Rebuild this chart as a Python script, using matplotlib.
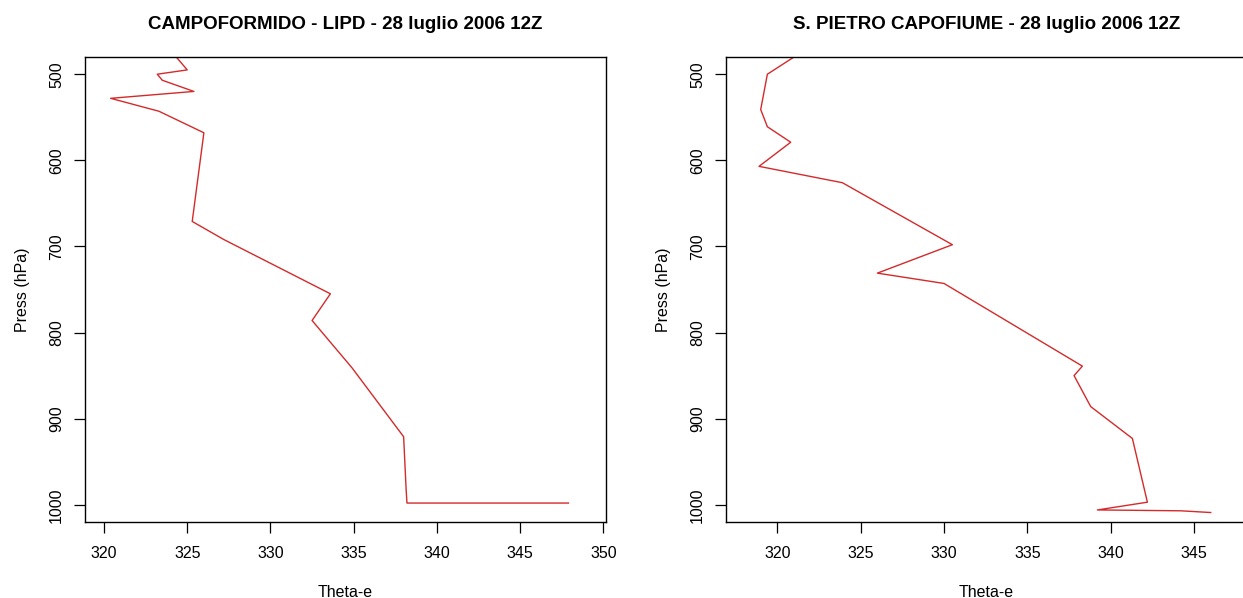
import matplotlib
matplotlib.use("Agg")
import matplotlib.pyplot as plt

plt.rcParams['font.family'] = ['Liberation Sans', 'DejaVu Sans']

# Profili di theta-e, due stazioni
titolo_1 = "CAMPOFORMIDO - LIPD - 28 luglio 2006 12Z"
press_1 = [470, 495, 500, 507, 520, 528, 543, 568, 671, 692, 755, 786, 841, 921, 982, 998, 998]
theta_1 = [323.9, 325.0, 323.2, 323.5, 325.4, 320.4, 323.3, 326.0, 325.3, 327.2,
           333.6, 332.5, 334.9, 338.0, 338.15, 338.2, 347.9]

titolo_2 = "S. PIETRO CAPOFIUME - 28 luglio 2006 12Z"
press_2 = [470, 500, 541, 561, 579, 607, 626, 698, 731, 743, 839, 850, 886, 923, 997, 1006, 1007, 1009]
theta_2 = [321.8, 319.4, 319.0, 319.4, 320.8, 318.9, 323.9, 330.5, 326.0, 330.0,
           338.3, 337.8, 338.8, 341.3, 342.2, 339.2, 344.2, 346.0]

xticks_1 = [320, 325, 330, 335, 340, 345, 350]
xticks_2 = [320, 325, 330, 335, 340, 345]
yticks = [500, 600, 700, 800, 900, 1000]

fig = plt.figure(figsize=(12.43, 5.98), dpi=100)

pannelli = [
    ([0.0684, 0.1271, 0.4189, 0.7776], titolo_1, press_1, theta_1, xticks_1, (318.86, 350.14)),
    ([0.5841, 0.1271, 0.4189, 0.7776], titolo_2, press_2, theta_2, xticks_2, (316.92, 348.16)),
]

for pos, titolo, p, th, xt, xl in pannelli:
    ax = fig.add_axes(pos)
    ax.plot(th, p, color='#d42a2a', linewidth=1.0)
    ax.set_xlim(xl)
    ax.set_ylim(1020, 480)
    ax.set_xticks(xt)
    ax.set_yticks(yticks)
    ax.set_yticklabels([str(v) for v in yticks], rotation=90, va='center')
    ax.tick_params(direction='out', length=8, width=0.9, labelsize=11.5, pad=9, colors='black')
    ax.tick_params(axis='y', pad=7)
    for s in ax.spines.values():
        s.set_linewidth(1.0)
        s.set_color('black')
    ax.set_title(titolo, fontsize=13.5, fontweight='bold', pad=20)
    ax.set_xlabel("Theta-e", fontsize=11.5)
    ax.set_ylabel("Press (hPa)", fontsize=11.5)
    ax.xaxis.set_label_coords(0.5, -0.135)
    ax.yaxis.set_label_coords(-0.106, 0.5)

fig.savefig("out.png", dpi=100)
